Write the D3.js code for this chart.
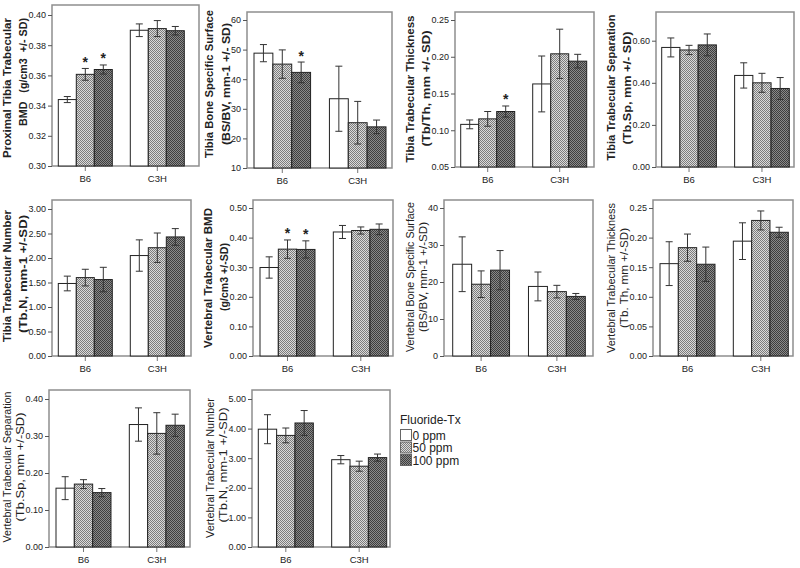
<!DOCTYPE html>
<html><head><meta charset="utf-8">
<script src="https://cdn.jsdelivr.net/npm/d3@7"></script>
<style>body{margin:0;background:#fff}svg{display:block}text{font-family:"Liberation Sans",Arial,sans-serif}</style>
</head><body><svg id="c" width="800" height="568"></svg>
<script>
// ---------- DATA ----------
const groups = ["B6", "C3H"];
const doses = ["0 ppm", "50 ppm", "100 ppm"];
const legendTitle = "Fluoride-Tx";

const tibBMD_mean = [[0.344, 0.3607, 0.3639], [0.3899, 0.391, 0.3896]];
const tibBMD_sd   = [[0.0020, 0.0039, 0.0030], [0.0042, 0.0053, 0.0028]];
const tibBMD_ticks = [0.30, 0.32, 0.34, 0.36, 0.38, 0.40];
const tibBMD_sig = [[0, 1, 1], [0, 0, 0]];

const tibBS_mean = [[48.8, 45.1, 42.3], [33.4, 25.3, 23.9]];
const tibBS_sd   = [[2.9, 4.8, 3.5], [11.0, 7.2, 2.3]];
const tibBS_ticks = [10, 20, 30, 40, 50, 60];
const tibBS_sig = [[0, 0, 1], [0, 0, 0]];

const tibTh_mean = [[0.108, 0.1155, 0.1255], [0.163, 0.204, 0.194]];
const tibTh_sd   = [[0.006, 0.010, 0.0075], [0.038, 0.0335, 0.0093]];
const tibTh_ticks = [0.05, 0.10, 0.15, 0.20, 0.25];
const tibTh_sig = [[0, 0, 1], [0, 0, 0]];

const tibSp_mean = [[0.568, 0.556, 0.580], [0.435, 0.400, 0.373]];
const tibSp_sd   = [[0.045, 0.022, 0.052], [0.060, 0.045, 0.052]];
const tibSp_ticks = [0.00, 0.20, 0.40, 0.60];
const tibSp_sig = [[0, 0, 0], [0, 0, 0]];

const tibN_mean = [[1.48, 1.60, 1.56], [2.05, 2.21, 2.43]];
const tibN_sd   = [[0.15, 0.17, 0.25], [0.32, 0.30, 0.17]];
const tibN_ticks = [0.00, 0.50, 1.00, 1.50, 2.00, 2.50, 3.00];
const tibN_sig = [[0, 0, 0], [0, 0, 0]];

const verBMD_mean = [[0.299, 0.361, 0.360], [0.419, 0.424, 0.428]];
const verBMD_sd   = [[0.036, 0.031, 0.029], [0.022, 0.012, 0.018]];
const verBMD_ticks = [0.00, 0.10, 0.20, 0.30, 0.40, 0.50];
const verBMD_sig = [[0, 1, 1], [0, 0, 0]];

const verBS_mean = [[24.8, 19.4, 23.2], [18.8, 17.4, 16.1]];
const verBS_sd   = [[7.4, 3.6, 5.3], [3.9, 1.7, 0.8]];
const verBS_ticks = [0, 10, 20, 30, 40];
const verBS_sig = [[0, 0, 0], [0, 0, 0]];

const verTh_mean = [[0.156, 0.183, 0.155], [0.194, 0.229, 0.209]];
const verTh_sd   = [[0.037, 0.023, 0.029], [0.031, 0.016, 0.0085]];
const verTh_ticks = [0.00, 0.05, 0.10, 0.15, 0.20, 0.25];
const verTh_sig = [[0, 0, 0], [0, 0, 0]];

const verSp_mean = [[0.159, 0.170, 0.147], [0.331, 0.307, 0.329]];
const verSp_sd   = [[0.031, 0.012, 0.011], [0.045, 0.056, 0.030]];
const verSp_ticks = [0.00, 0.10, 0.20, 0.30, 0.40];
const verSp_sig = [[0, 0, 0], [0, 0, 0]];

const verN_mean = [[3.98, 3.77, 4.19], [2.95, 2.73, 3.02]];
const verN_sd   = [[0.49, 0.25, 0.42], [0.14, 0.17, 0.12]];
const verN_ticks = [0.00, 1.00, 2.00, 3.00, 4.00, 5.00];
const verN_sig = [[0, 0, 0], [0, 0, 0]];

// ---------- PANELS (layout) ----------
const panels = [
 {mean: tibBMD_mean, sd: tibBMD_sd, ticks: tibBMD_ticks, sig: tibBMD_sig, fmt: ".2f",
  title: ["Proximal Tibia Trabecular", "BMD   (g/cm3  +/- SD)"], bold: true,
  L: 52, R: 199, T: 5, B: 166, topY: 15, bx: [58.3, 184.3], ty: [88, 72], tl: [140, 108]},
 {mean: tibBS_mean, sd: tibBS_sd, ticks: tibBS_ticks, sig: tibBS_sig, fmt: "d",
  title: ["Tibia Bone Specific Surface", "(BS/BV, mm-1 +/- SD)"], bold: true,
  L: 247, R: 392, T: 12, B: 168, topY: 20, bx: [254, 386], ty: [84, 84], tl: [148, 122]},
 {mean: tibTh_mean, sd: tibTh_sd, ticks: tibTh_ticks, sig: tibTh_sig, fmt: ".2f",
  title: ["Tibia Trabecular Thickness", "(Tb/Th, mm +/- SD)"], bold: true,
  L: 455, R: 594, T: 12, B: 167, topY: 20, bx: [460.7, 586.7], ty: [89, 88.5], tl: [147, 116]},
 {mean: tibSp_mean, sd: tibSp_sd, ticks: tibSp_ticks, sig: tibSp_sig, fmt: ".2f",
  title: ["Tibia Trabecular Separation", "(Tb.Sp, mm +/- SD)"], bold: true,
  L: 656, R: 794, T: 12, B: 167, topY: 40.7, bx: [661.7, 789.3], ty: [87.5, 88], tl: [146, 113]},
 {mean: tibN_mean, sd: tibN_sd, ticks: tibN_ticks, sig: tibN_sig, fmt: ".2f",
  title: ["Tibia Trabecular Number", "(Tb.N, mm-1 +/-SD)"], bold: true,
  L: 52, R: 191, T: 200, B: 356, topY: 209, bx: [58.3, 184.3], ty: [276, 274], tl: [132, 118]},
 {mean: verBMD_mean, sd: verBMD_sd, ticks: verBMD_ticks, sig: verBMD_sig, fmt: ".2f",
  title: ["Vertebral Trabecular BMD", "(g/cm3 +/-SD)"], bold: true,
  L: 253, R: 393, T: 200, B: 356, topY: 208, bx: [260, 388.3], ty: [278, 277], tl: [140, 68]},
 {mean: verBS_mean, sd: verBS_sd, ticks: verBS_ticks, sig: verBS_sig, fmt: "d",
  title: ["Vertebral Bone Specific Surface", "(BS/BV, mm-1 +/-SD)"], bold: false,
  L: 444, R: 593, T: 200, B: 356, topY: 208, bx: [452.7, 585.3], ty: [277, 277], tl: [150, 110]},
 {mean: verTh_mean, sd: verTh_sd, ticks: verTh_ticks, sig: verTh_sig, fmt: ".2f",
  title: ["Vertebral Trabecular Thickness", "(Tb. Th, mm +/-SD)"], bold: false,
  L: 653, R: 793, T: 200, B: 356, topY: 208, bx: [660, 788.3], ty: [278, 278], tl: [150, 100]},
 {mean: verSp_mean, sd: verSp_sd, ticks: verSp_ticks, sig: verSp_sig, fmt: ".2f",
  title: ["Vertebral Trabecular Separation", "(Tb.Sp, mm +/-SD)"], bold: false,
  L: 49, R: 190, T: 390, B: 547, topY: 399, bx: [56, 184.3], ty: [467, 467], tl: [151, 109]},
 {mean: verN_mean, sd: verN_sd, ticks: verN_ticks, sig: verN_sig, fmt: ".2f",
  title: ["Vertebral Trabecular Number", "(Tb.N, mm-1 +/-SD)"], bold: false,
  L: 252, R: 390, T: 390, B: 547, topY: 399, bx: [258.3, 386.7], ty: [468, 465], tl: [140, 115]}
];

const svg = d3.select("#c");
const defs = svg.append("defs");
function checker(id, light, dark) {
  const p = defs.append("pattern").attr("id", id).attr("width", 2).attr("height", 2)
    .attr("patternUnits", "userSpaceOnUse");
  p.append("rect").attr("width", 2).attr("height", 2).attr("fill", light);
  p.append("rect").attr("width", 1).attr("height", 1).attr("fill", dark);
  p.append("rect").attr("x", 1).attr("y", 1).attr("width", 1).attr("height", 1).attr("fill", dark);
}
checker("p50", "#dadada", "#7c7c7c");
checker("p100", "#8a8a8a", "#3e3e3e");
const fills = ["#ffffff", "url(#p50)", "url(#p100)"];
const FONT = '"Liberation Sans",Arial,sans-serif';

panels.forEach(p => {
  const g = svg.append("g");
  const yMin = p.ticks[0], yTop = p.ticks[p.ticks.length - 1];
  const y = d3.scaleLinear().domain([yMin, yTop]).range([p.B, p.topY]);
  const x0 = d3.scaleBand().domain(groups).range(p.bx).paddingInner(0.25).paddingOuter(0);
  const x1 = d3.scaleBand().domain(doses).range([0, x0.bandwidth()]).padding(0);

  // frame
  g.append("rect").attr("x", p.L).attr("y", p.T).attr("width", p.R - p.L).attr("height", p.B - p.T)
    .attr("fill", "none").attr("stroke", "#8e8e8e").attr("stroke-width", 1.5);

  // y axis
  const ya = d3.axisLeft(y).tickValues(p.ticks).tickSize(4).tickPadding(2)
    .tickFormat(d3.format(p.fmt));
  const yg = g.append("g").attr("transform", `translate(${p.L},0)`).call(ya);
  yg.select(".domain").remove();
  yg.selectAll(".tick line").attr("stroke", "#555");
  yg.selectAll(".tick text").attr("font-size", 9).attr("fill", "#222").style("font-family", FONT);
  let labelLeft = p.L;
  yg.selectAll(".tick text").each(function () {
    const bb = this.getBBox();
    labelLeft = Math.min(labelLeft, p.L + bb.x);
  });

  // x axis
  const xa = d3.axisBottom(x0).tickSize(5).tickPadding(4);
  const xg = g.append("g").attr("transform", `translate(0,${p.B})`).call(xa);
  xg.select(".domain").remove();
  xg.selectAll(".tick line").attr("stroke", "#777");
  xg.selectAll(".tick text").attr("font-size", 9.5).attr("fill", "#222").style("font-family", FONT);

  // bars
  const rows = [];
  groups.forEach((gr, gi) => doses.forEach((ds, di) => rows.push({
    gr, ds, di, m: p.mean[gi][di], s: p.sd[gi][di], sig: p.sig[gi][di]})));
  const bw = x1.bandwidth();
  g.selectAll(".bar").data(rows).enter().append("rect")
    .attr("x", d => x0(d.gr) + x1(d.ds))
    .attr("y", d => y(d.m))
    .attr("width", bw)
    .attr("height", d => p.B - y(d.m))
    .attr("fill", d => fills[d.di])
    .attr("stroke", "#222").attr("stroke-width", 1);

  // error bars
  rows.forEach(d => {
    const cx = x0(d.gr) + x1(d.ds) + bw / 2;
    const yt = y(d.m + d.s), yb = y(d.m - d.s);
    g.append("line").attr("x1", cx).attr("x2", cx).attr("y1", yt).attr("y2", yb)
      .attr("stroke", "#333").attr("stroke-width", 1);
    [yt, yb].forEach(yy => g.append("line").attr("x1", cx - 3.5).attr("x2", cx + 3.5)
      .attr("y1", yy).attr("y2", yy).attr("stroke", "#333").attr("stroke-width", 1));
    if (d.sig) {
      g.append("text").attr("x", cx).attr("y", yt - 1.5).attr("text-anchor", "middle")
        .attr("font-size", 14).attr("font-weight", "bold").attr("fill", "#222").text("*");
    }
  });

  // axis titles (two rotated lines)
  const base2 = labelLeft - 1;
  const gap = p.bold ? 16.5 : 13;
  const xs = [base2 - gap, base2];
  p.title.forEach((t, i) => {
    g.append("text")
      .attr("transform", `translate(${xs[i]},${p.ty[i]}) rotate(-90)`)
      .attr("text-anchor", "middle")
      .attr("font-size", p.bold ? 11.5 : 10.7)
      .attr("font-weight", p.bold ? "bold" : "normal")
      .attr("fill", "#222")
      .attr("textLength", p.tl[i]).attr("lengthAdjust", "spacingAndGlyphs")
      .style("white-space", "pre")
      .text(t);
  });
});

// legend
const lg = svg.append("g").attr("transform", "translate(400,0)");
lg.append("text").attr("x", 0).attr("y", 424).attr("font-size", 12).attr("fill", "#222").text(legendTitle);
doses.forEach((d, i) => {
  lg.append("rect").attr("x", 0.5).attr("y", 429.5 + i * 12.5).attr("width", 11).attr("height", 11)
    .attr("fill", fills[i]).attr("stroke", "#666").attr("stroke-width", 1);
  lg.append("text").attr("x", 12.5).attr("y", 439.5 + i * 12.5).attr("font-size", 12)
    .attr("fill", "#222").text(d);
});
</script></body></html>
